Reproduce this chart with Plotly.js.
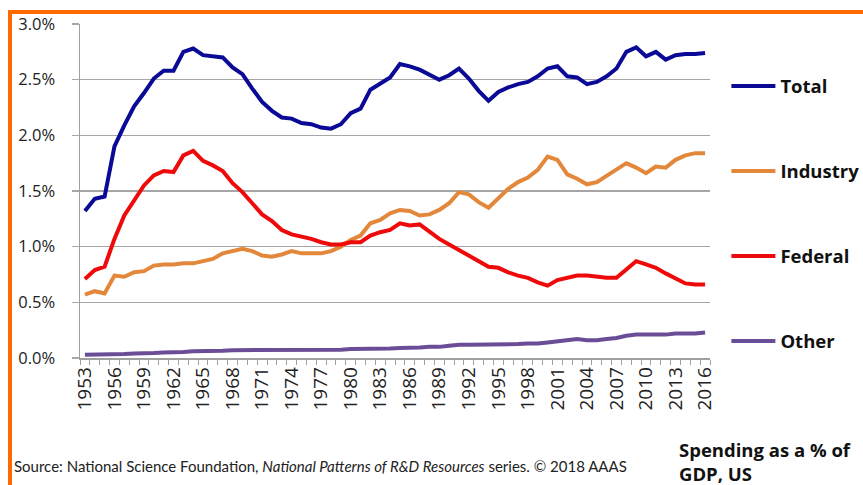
<!DOCTYPE html>
<html>
<head>
<meta charset="utf-8">
<script src="https://cdn.plot.ly/plotly-3.0.1.min.js"></script>
<style>
  html, body { margin: 0; padding: 0; background: #ffffff; }
  #frame { position: absolute; left: 8px; top: 10px; width: 900px; height: 500px;
           border-top: 4px solid #FF6A00; border-left: 4px solid #FF6A00; }
  #chart { position: absolute; left: 0; top: 0; width: 863px; height: 485px; }
</style>
</head>
<body>
<div id="frame"></div>
<div id="chart"></div>
<script>
const years = [];
for (let y = 1953; y <= 2016; y++) years.push(y);

const tickYears = [1953,1956,1959,1962,1965,1968,1971,1974,1977,1980,1983,1986,1989,1992,1995,1998,2001,2004,2007,2010,2013,2016];

const total = [
  1.32,1.43,1.45,1.90,2.09,2.26,2.38,2.51,2.58,2.58,
  2.75,2.78,2.72,2.71,2.70,2.61,2.55,2.42,2.30,2.22,
  2.16,2.15,2.11,2.10,2.07,2.06,2.10,2.20,2.24,2.41,
  2.46,2.52,2.64,2.62,2.59,2.54,2.50,2.54,2.60,2.51,
  2.40,2.31,2.39,2.43,2.46,2.48,2.53,2.60,2.62,2.53,
  2.52,2.46,2.48,2.53,2.60,2.75,2.79,2.71,2.75,2.68,
  2.72,2.73,2.73,2.74
];
const industry = [
  0.57,0.60,0.58,0.74,0.73,0.77,0.78,0.83,0.84,0.84,
  0.85,0.85,0.87,0.89,0.94,0.96,0.98,0.96,0.92,0.91,
  0.93,0.96,0.94,0.94,0.94,0.96,1.00,1.06,1.10,1.21,
  1.24,1.30,1.33,1.32,1.28,1.29,1.33,1.39,1.49,1.47,
  1.40,1.35,1.43,1.52,1.58,1.62,1.69,1.81,1.78,1.65,
  1.61,1.56,1.58,1.64,1.70,1.75,1.71,1.66,1.72,1.71,
  1.78,1.82,1.84,1.84
];
const federal = [
  0.71,0.79,0.82,1.07,1.28,1.42,1.55,1.64,1.68,1.67,
  1.82,1.86,1.77,1.73,1.68,1.57,1.49,1.39,1.29,1.23,
  1.15,1.11,1.09,1.07,1.04,1.02,1.02,1.04,1.04,1.10,
  1.13,1.15,1.21,1.19,1.20,1.13,1.07,1.02,0.97,0.92,
  0.87,0.82,0.81,0.77,0.74,0.72,0.68,0.65,0.70,0.72,
  0.74,0.74,0.73,0.72,0.72,0.80,0.87,0.84,0.81,0.76,
  0.71,0.67,0.66,0.66
];
const other = [
  0.03,0.03,0.03,0.035,0.035,0.04,0.04,0.045,0.05,0.05,
  0.055,0.06,0.06,0.065,0.065,0.07,0.07,0.07,0.07,0.07,
  0.07,0.07,0.07,0.07,0.07,0.07,0.075,0.08,0.08,0.08,
  0.085,0.085,0.09,0.09,0.095,0.10,0.10,0.11,0.12,0.12,
  0.12,0.12,0.12,0.125,0.125,0.13,0.13,0.14,0.15,0.16,
  0.17,0.16,0.16,0.17,0.18,0.20,0.21,0.21,0.21,0.21,
  0.22,0.22,0.22,0.23
];

const seriesNames = ['Total','Industry','Federal','Other'];
const seriesData = [total, industry, federal, other];
const seriesColors = ['#0A0A96','#E3873B','#EE0A0A','#6B4C97'];

const traces = seriesNames.map((name, i) => ({
  x: years,
  y: seriesData[i],
  type: 'scatter',
  mode: 'lines',
  name: name,
  legendgroup: name,
  line: { color: seriesColors[i], width: 4 }
}));

const fam = '"Open Sans", Lato, sans-serif';

const layout = {
  width: 863, height: 485,
  margin: { l: 80, r: 153, t: 24, b: 127, autoexpand: false },
  paper_bgcolor: 'rgba(0,0,0,0)',
  plot_bgcolor: 'rgba(0,0,0,0)',
  font: { family: fam, color: '#222222' },
  showlegend: true,
  legend: {
    x: 1.026, xanchor: 'left', y: 0.87, yanchor: 'top',
    itemwidth: 44,
    font: { size: 18.5, color: '#111111', family: fam, weight: 'bold' },
    tracegroupgap: 58, bgcolor: 'rgba(0,0,0,0)'
  },
  xaxis: {
    range: [1952.5, 2016.5],
    tickmode: 'array', tickvals: tickYears, ticktext: tickYears.map(String),
    tickangle: -90, ticks: '', showgrid: false, zeroline: false,
    showline: true, linecolor: '#A0A0A0', linewidth: 1.5,
    tickfont: { size: 19, color: '#222222', family: fam },
    minor: { ticks: 'outside', tick0: 1952.5, dtick: 1, ticklen: 5, tickcolor: '#A0A0A0', tickwidth: 1, showgrid: false }
  },
  yaxis: {
    range: [0, 3.0], dtick: 0.5, tickformat: '.1f', ticksuffix: '%',
    showgrid: true, gridcolor: '#A6A6A6', gridwidth: 1.5, zeroline: false,
    showline: true, linecolor: '#A0A0A0', linewidth: 1.5,
    ticks: 'outside', ticklen: 7, tickcolor: '#A6A6A6', tickwidth: 1.5,
    ticklabelstandoff: 13,
    tickfont: { size: 16.5, color: '#222222', family: fam }
  },
  annotations: [
    {
      xref: 'paper', yref: 'paper', x: -0.108, y: -0.322, xanchor: 'left', yanchor: 'middle',
      text: 'Source: National Science Foundation, <i>National Patterns of R&amp;D Resources</i> series. © 2018 AAAS',
      showarrow: false, font: { size: 15, color: '#222222', family: 'Lato, "Open Sans", sans-serif' }
    },
    {
      xref: 'paper', yref: 'paper', x: 0.947, y: -0.31, xanchor: 'left', yanchor: 'middle', align: 'left',
      text: '<b>Spending as a % of<br>GDP, US</b>',
      showarrow: false, font: { size: 18.5, color: '#111111', family: fam }
    }
  ]
};

Plotly.newPlot('chart', traces, layout, { displayModeBar: false, staticPlot: true });
</script>
</body>
</html>
